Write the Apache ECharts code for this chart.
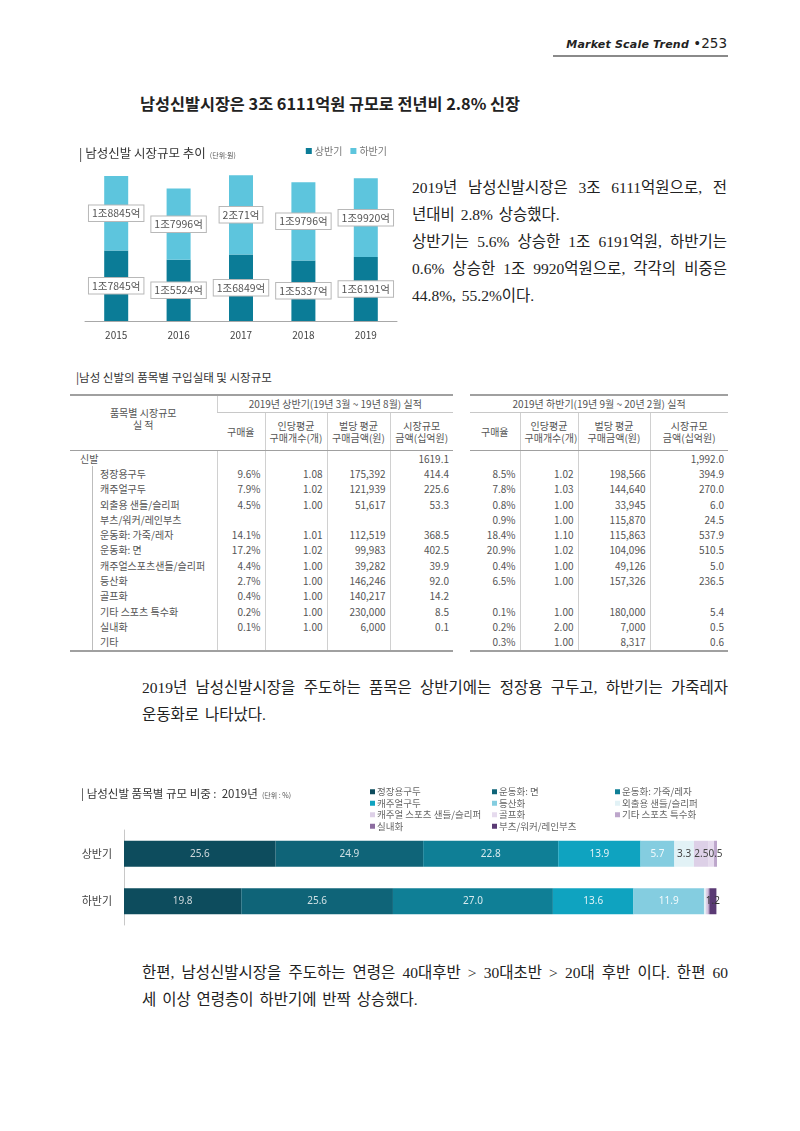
<!DOCTYPE html>
<html>
<head>
<meta charset="utf-8">
<script src="https://cdn.jsdelivr.net/npm/echarts@6/dist/echarts.min.js"></script>
<style>
  body { margin: 0; background: #fff; }
  #page { position: relative; width: 800px; height: 1131px; overflow: hidden; font-family: 'Noto Sans CJK KR', sans-serif; color: #222; }
  .abs { position: absolute; }
  .hdr { right: 73px; top: 35px; font-size: 13.5px; color: #222; font-family: 'DejaVu Sans', sans-serif; }
  .hdr i { font-weight: bold; font-size: 11px; letter-spacing: 0.2px; }
  .hline { left: 553px; top: 55px; width: 175px; height: 2px; background: #8a8a8a; }
  .title { left: 140px; top: 91px; font-size: 16.3px; font-weight: bold; color: #222; white-space: nowrap; }
  .para { font-family: 'Liberation Serif', 'Noto Sans CJK KR', serif; font-size: 15.5px; line-height: 27px; color: #222; word-spacing: 2px; }
  .para div { white-space: nowrap; }
  .para div.j { text-align: justify; text-align-last: justify; white-space: normal; word-spacing: 0; }
  .cap { left: 76px; top: 369px; font-size: 11.5px; color: #333; }
  table { position: absolute; border-collapse: collapse; table-layout: fixed; font-size: 10px; color: #555;
          border-top: 2px solid #a0a0a0; border-bottom: 2px solid #a0a0a0; }
  td { padding: 0 4px; border-left: 1px solid #d0d0d0; white-space: nowrap; overflow: hidden; line-height: 12px; height: 15.3px; }
  td:first-child { border-left: none; }
  td.num { text-align: right; }
  td.ttl { text-align: center; height: 16px; border-bottom: 1px solid #c8c8c8; }
  tr.h2 td { text-align: center; height: 37px; border-bottom: 1px solid #a0a0a0; }
  td.lab { text-align: center; border-bottom: 1px solid #a0a0a0; vertical-align: middle; padding-bottom: 8px; }
  td.tot { padding-left: 10px; }
  td.item { padding-left: 30px; box-shadow: inset 22px 0 0 #fff, inset 23px 0 0 #bdbdbd; }
</style>
</head>
<body>
<div id="page">
  <div class="abs hdr"><i>Market Scale Trend</i> &#8226;253</div>
  <div class="abs hline"></div>
  <div class="abs title">남성신발시장은 3조 6111억원 규모로 전년비 2.8% 신장</div>

  <div id="chart1" class="abs" style="left:60px;top:135px;width:340px;height:215px;"></div>

  <div class="abs para" style="left:412px;top:174px;width:315px;">
    <div class="j">2019년 남성신발시장은 3조 6111억원으로, 전</div>
    <div>년대비 2.8% 상승했다.</div>
    <div class="j">상반기는 5.6% 상승한 1조 6191억원, 하반기는</div>
    <div class="j">0.6% 상승한 1조 9920억원으로, 각각의 비중은</div>
    <div>44.8%, 55.2%이다.</div>
  </div>

  <div class="abs cap">|남성 신발의 품목별 구입실태 및 시장규모</div>
  <table id="tblL" style="left:70px;top:394px;width:383px;"></table>
  <table id="tblR" style="left:470px;top:394px;width:258px;"></table>

  <div class="abs para" style="left:142px;top:674px;width:586px;">
    <div class="j">2019년 남성신발시장을 주도하는 품목은 상반기에는 정장용 구두고, 하반기는 가죽레자</div>
    <div>운동화로 나타났다.</div>
  </div>

  <div id="chart2" class="abs" style="left:60px;top:770px;width:680px;height:170px;"></div>

  <div class="abs para" style="left:142px;top:959px;width:586px;">
    <div class="j">한편, 남성신발시장을 주도하는 연령은 40대후반 &gt; 30대초반 &gt; 20대 후반 이다. 한편 60</div>
    <div>세 이상 연령층이 하반기에 반짝 상승했다.</div>
  </div>
</div>

<script>
// 시장규모 추이 (억원)
const years = ['2015', '2016', '2017', '2018', '2019']
const firstHalf = [17845, 15524, 16849, 15337, 16191]
const secondHalf = [18845, 17996, 20071, 19796, 19920]

// 품목별 구입실태 표
const tableItems = ['정장용구두', '캐주얼구두', '외출용 샌들/슬리퍼', '부츠/워커/레인부츠', '운동화: 가죽/레자', '운동화: 면',
  '캐주얼스포츠샌들/슬리퍼', '등산화', '골프화', '기타 스포츠 특수화', '실내화', '기타']
const h1Rate = ['9.6%', '7.9%', '4.5%', '', '14.1%', '17.2%', '4.4%', '2.7%', '0.4%', '0.2%', '0.1%', '']
const h1Qty = ['1.08', '1.02', '1.00', '', '1.01', '1.02', '1.00', '1.00', '1.00', '1.00', '1.00', '']
const h1Price = ['175,392', '121,939', '51,617', '', '112,519', '99,983', '39,282', '146,246', '140,217', '230,000', '6,000', '']
const h1Size = ['414.4', '225.6', '53.3', '', '368.5', '402.5', '39.9', '92.0', '14.2', '8.5', '0.1', '']
const h1Total = '1619.1'
const h2Rate = ['8.5%', '7.8%', '0.8%', '0.9%', '18.4%', '20.9%', '0.4%', '6.5%', '', '0.1%', '0.2%', '0.3%']
const h2Qty = ['1.02', '1.03', '1.00', '1.00', '1.10', '1.02', '1.00', '1.00', '', '1.00', '2.00', '1.00']
const h2Price = ['198,566', '144,640', '33,945', '115,870', '115,863', '104,096', '49,126', '157,326', '', '180,000', '7,000', '8,317']
const h2Size = ['394.9', '270.0', '6.0', '24.5', '537.9', '510.5', '5.0', '236.5', '', '5.4', '0.5', '0.6']
const h2Total = '1,992.0'

// 품목별 규모 비중 (%)
const halves = ['상반기', '하반기']
const shareItems = ['정장용구두', '운동화: 면', '운동화: 가죽/레자', '캐주얼구두', '등산화', '외출용 샌들/슬리퍼',
  '캐주얼 스포츠 샌들/슬리퍼', '골프화', '기타 스포츠 특수화', '실내화', '부츠/워커/레인부츠']
const shareH1 = [25.6, 24.9, 22.8, 13.9, 5.7, 3.3, 2.5, 0.9, 0.5, 0.0, 0]
const shareH2 = [19.8, 25.6, 27.0, 13.6, 11.9, 0.3, 0.3, 0, 0.3, 0.0, 1.2]

const shareColors = ['#0d4c5d', '#0f6478', '#0f7f96', '#0fa3c0', '#84cde0', '#e2f2f6',
  '#ddd0e7', '#e6dbee', '#bda6cb', '#8c6ca0', '#5a3a74']
const shareLabelColors = ['#cfd8dc', '#cfe0e4', '#d8eaee', '#e2f2f6', '#f2fafc', '#444',
  '#444', '#444', '#444', '#444', '#333']

// ---- 표 ----
function td(text, cls) {
  return '<td' + (cls ? ' class="' + cls + '"' : '') + '>' + text + '</td>'
}
function numRow(arrs, i) {
  return arrs.map(a => td(a[i], 'num')).join('')
}
const hdrCells = td('구매율') + td('인당평균<br>구매개수(개)') + td('벌당 평균<br>구매금액(원)') + td('시장규모<br>금액(십억원)')

let left = '<colgroup><col style="width:147px"><col style="width:48px"><col style="width:62px"><col style="width:63px"><col style="width:63px"></colgroup>'
left += '<tr><td rowspan="2" class="lab">품목별 시장규모<br>실 적</td><td colspan="4" class="ttl">2019년 상반기(19년 3월 ~ 19년 8월) 실적</td></tr>'
left += '<tr class="h2">' + hdrCells + '</tr>'
left += '<tr>' + td('신발', 'tot') + td('') + td('') + td('') + td(h1Total, 'num') + '</tr>'
tableItems.forEach((name, i) => {
  left += '<tr>' + td(name, 'item') + numRow([h1Rate, h1Qty, h1Price, h1Size], i) + '</tr>'
})
document.getElementById('tblL').innerHTML = left

let right = '<colgroup><col style="width:50px"><col style="width:58px"><col style="width:72px"><col style="width:78px"></colgroup>'
right += '<tr><td colspan="4" class="ttl">2019년 하반기(19년 9월 ~ 20년 2월) 실적</td></tr>'
right += '<tr class="h2">' + hdrCells + '</tr>'
right += '<tr>' + td('') + td('') + td('') + td(h2Total, 'num') + '</tr>'
tableItems.forEach((name, i) => {
  right += '<tr>' + numRow([h2Rate, h2Qty, h2Price, h2Size], i) + '</tr>'
})
document.getElementById('tblR').innerHTML = right

// ---- 차트 1 : 시장규모 추이 ----
const fmtWon = v => Math.floor(v / 10000) + '조' + (v % 10000) + '억'
const boxLabel = {
  show: true,
  position: 'inside',
  formatter: p => fmtWon(p.value),
  color: '#555',
  fontSize: 10.5,
  fontFamily: 'Noto Sans CJK KR',
  backgroundColor: '#fff',
  borderColor: '#b8b8b8',
  borderWidth: 1,
  padding: [3, 3, 2, 3]
}
const chart1 = echarts.init(document.getElementById('chart1'))
chart1.setOption({
  animation: false,
  textStyle: { fontFamily: 'Noto Sans CJK KR' },
  title: {
    text: '{a|| 남성신발 시장규모 추이} {b|(단위:원)}',
    left: 14,
    top: 4,
    textStyle: {
      rich: {
        a: { fontSize: 12.5, color: '#333', fontWeight: 'normal', fontFamily: 'Noto Sans CJK KR' },
        b: { fontSize: 7, color: '#555', fontWeight: 'normal', fontFamily: 'Noto Sans CJK KR', padding: [4, 0, 0, 0] }
      }
    }
  },
  legend: {
    data: ['상반기', '하반기'],
    right: 8,
    top: 6,
    icon: 'rect',
    itemWidth: 6,
    itemHeight: 6,
    itemGap: 8,
    textStyle: { fontSize: 10, color: '#777', padding: [0, 0, 0, -2] }
  },
  grid: { left: 25, right: 3, top: 28, bottom: 29 },
  xAxis: {
    type: 'category',
    data: years,
    axisLine: { lineStyle: { color: '#a8a8a8' } },
    axisTick: { show: false },
    axisLabel: { fontSize: 10, color: '#444', margin: 9 }
  },
  yAxis: { type: 'value', min: 0, max: 40000, show: false },
  series: [
    { name: '상반기', type: 'bar', stack: 'total', barWidth: 24, data: firstHalf, itemStyle: { color: '#0b7c97' }, label: boxLabel },
    { name: '하반기', type: 'bar', stack: 'total', barWidth: 24, data: secondHalf, itemStyle: { color: '#5dc5dd' }, label: boxLabel }
  ]
})

// ---- 차트 2 : 품목별 규모 비중 ----
const legendCols = [
  [shareItems[0], shareItems[3], shareItems[6], shareItems[9]],
  [shareItems[1], shareItems[4], shareItems[7], shareItems[10]],
  [shareItems[2], shareItems[5], shareItems[8]]
]
const legendLefts = [305, 427, 550]
const chart2 = echarts.init(document.getElementById('chart2'))
chart2.setOption({
  animation: false,
  textStyle: { fontFamily: 'Noto Sans CJK KR' },
  title: {
    text: '{a|| 남성신발 품목별 규모 비중 :  2019년} {b|(단위 : %)}',
    left: 16,
    top: 10,
    textStyle: {
      rich: {
        a: { fontSize: 11.5, color: '#333', fontWeight: 'normal', fontFamily: 'Noto Sans CJK KR' },
        b: { fontSize: 7, color: '#555', fontWeight: 'normal', fontFamily: 'Noto Sans CJK KR', padding: [3, 0, 0, 0] }
      }
    }
  },
  legend: legendCols.map((col, k) => ({
    data: col,
    orient: 'vertical',
    left: legendLefts[k],
    top: 12,
    icon: 'rect',
    itemWidth: 5,
    itemHeight: 5,
    itemGap: 2,
    selectedMode: false,
    textStyle: { fontSize: 9.5, lineHeight: 9, color: '#666', padding: [0, 0, 0, -3] }
  })),
  grid: { left: 64, width: 593, top: 60, height: 95 },
  xAxis: { type: 'value', min: 0, max: 100.1, show: false },
  yAxis: {
    type: 'category',
    data: halves,
    inverse: true,
    axisLine: { lineStyle: { color: '#c8c8c8' } },
    axisTick: { show: false },
    axisLabel: { fontSize: 11, color: '#444', margin: 12 }
  },
  series: shareItems.map((name, i) => ({
    name: name,
    type: 'bar',
    stack: 'share',
    barWidth: 26,
    data: [shareH1[i], shareH2[i]],
    itemStyle: { color: shareColors[i] },
    label: {
      show: true,
      position: 'inside',
      fontSize: 10,
      fontFamily: 'Noto Sans',
      color: shareLabelColors[i],
      formatter: p => (p.value >= 0.5 && name !== '골프화') ? p.value.toFixed(1) : ''
    }
  }))
})
</script>
</body>
</html>
